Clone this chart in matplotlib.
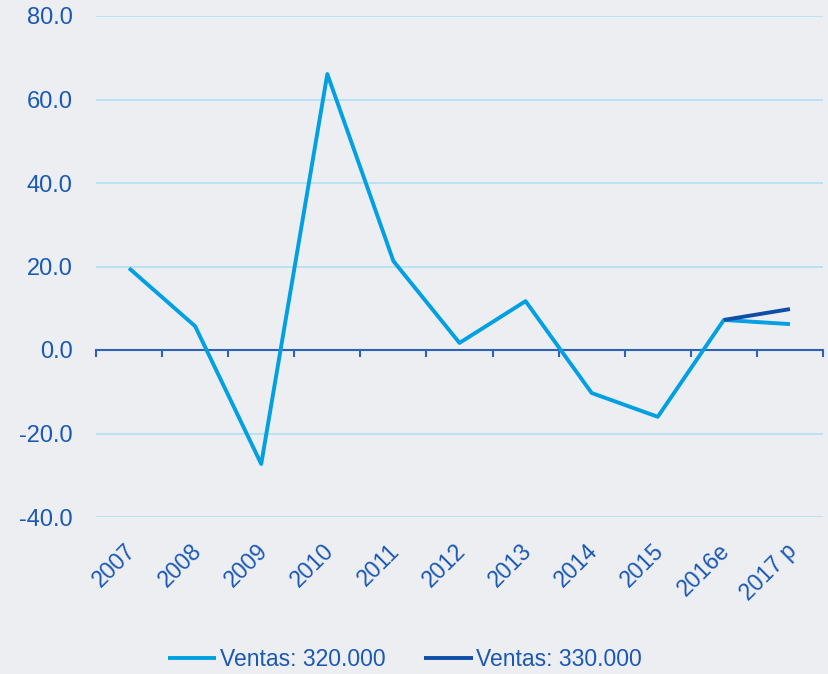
import matplotlib
matplotlib.use("Agg")
import matplotlib.pyplot as plt
from matplotlib.transforms import blended_transform_factory

categories = ["2007", "2008", "2009", "2010", "2011", "2012", "2013", "2014", "2015", "2016e", "2017 p"]
ventas_320 = [19.6, 5.7, -27.3, 66.1, 21.3, 1.7, 11.7, -10.3, -16.0, 7.2, 6.2]
ventas_330_cats = ["2016e", "2017 p"]
ventas_330 = [7.2, 9.8]
yticks = [-40, -20, 0, 20, 40, 60, 80]

bg = "#eceef1"
txt = "#1a58b5"
c_light = "#00a0e3"
c_dark = "#0f4ea6"
grid_c = "#b5e1f5"

plt.rcParams['font.family'] = ['Liberation Sans', 'DejaVu Sans']

fig = plt.figure(figsize=(8.29, 6.74), dpi=100, facecolor=bg)
ax = fig.add_axes([96/829, 1-517/674, 727/829, 501/674], facecolor=bg)

x = list(range(len(categories)))
x2 = [categories.index(c) for c in ventas_330_cats]
l1, = ax.plot(x, ventas_320, color=c_light, lw=2.8, solid_capstyle='butt', zorder=3, label="Ventas: 320.000")
l2, = ax.plot(x2, ventas_330, color=c_dark, lw=2.8, solid_capstyle='butt', zorder=4, label="Ventas: 330.000")

ax.set_xlim(-0.5, len(categories) - 0.5)
ax.set_ylim(-40, 80)
ax.set_yticks(yticks)
ax.set_yticklabels([f"{v:.1f}" for v in yticks], fontsize=17, color=txt)
ax.tick_params(axis='y', length=0, pad=17)
for v in yticks:
    if v != 0:
        ax.axhline(v, color=grid_c, lw=1.3, zorder=1)

for s in ["left", "right", "top"]:
    ax.spines[s].set_visible(False)
ax.spines["bottom"].set_position(("data", 0))
ax.spines["bottom"].set_color("#2f62b5")
ax.spines["bottom"].set_linewidth(1.5)
ax.set_xticks([i - 0.5 for i in range(len(categories) + 1)])
ax.set_xticklabels([])
ax.tick_params(axis='x', length=5, width=1.5, color="#2f62b5", direction='out')

trans = blended_transform_factory(ax.transData, ax.transAxes)
for i, c in enumerate(categories):
    ax.text(i - 0.08, -0.045, c, transform=trans, rotation=45, ha='right', va='top',
            rotation_mode='anchor', fontsize=16.5, color=txt)

leg = fig.legend(handles=[l1, l2], loc='center', bbox_to_anchor=(405/829, 1-660/674),
                 ncol=2, frameon=False, fontsize=16.5, handlelength=2.1,
                 handletextpad=0.15, columnspacing=1.7, labelcolor=txt)

fig.savefig("out.png", dpi=100, facecolor=bg)
